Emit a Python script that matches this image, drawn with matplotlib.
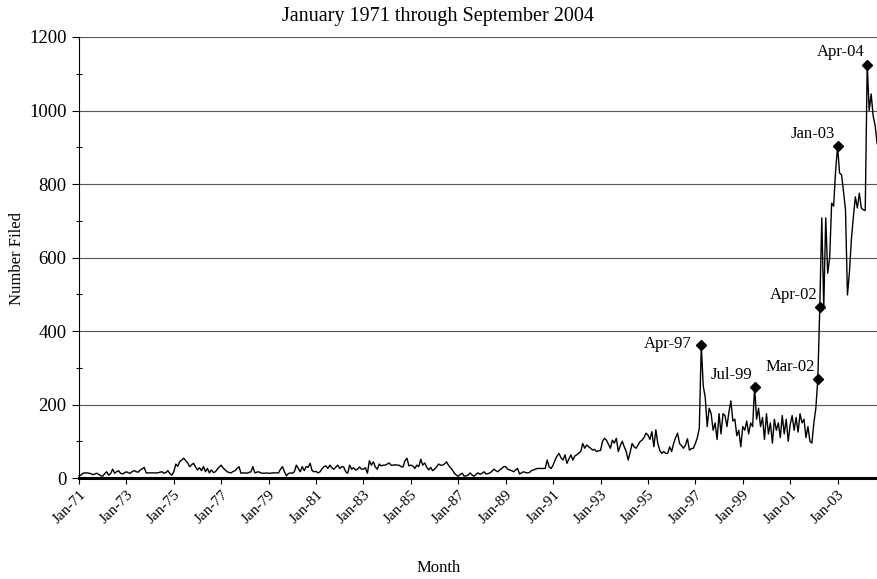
import numpy as np
import matplotlib
matplotlib.use("Agg")
import matplotlib.pyplot as plt

plt.rcParams['font.family'] = ['Liberation Serif', 'DejaVu Serif']

# monthly counts, Jan 1971 .. Sep 2004
filed_1970s = [
    6, 8, 13, 14, 14, 13, 12, 9, 11, 13, 10, 6,          # 1971
    5, 12, 17, 8, 12, 24, 13, 17, 20, 13, 11, 14,        # 1972
    17, 14, 13, 18, 20, 17, 16, 22, 25, 29, 14, 14,      # 1973
    14, 14, 14, 14, 14, 16, 17, 13, 15, 20, 12, 8,       # 1974
    17, 38, 32, 45, 49, 54, 47, 41, 31, 36, 40, 30,      # 1975
    22, 28, 20, 31, 17, 26, 14, 22, 15, 17, 24, 30,      # 1976
    35, 27, 22, 17, 15, 14, 18, 20, 26, 31, 13, 14,      # 1977
    14, 13, 15, 17, 31, 14, 16, 17, 14, 13, 13, 14,      # 1978
    13, 13, 14, 14, 14, 14, 24, 31, 17, 6, 12, 14,       # 1979
]
filed_1980s = [
    13, 17, 35, 26, 17, 31, 20, 31, 29, 40, 20, 17,      # 1980
    18, 14, 17, 25, 31, 33, 26, 35, 28, 24, 30, 35,      # 1981
    26, 31, 30, 17, 13, 35, 24, 28, 22, 24, 30, 24,      # 1982
    24, 28, 13, 47, 35, 44, 30, 24, 38, 33, 35, 35,      # 1983
    38, 41, 35, 35, 36, 35, 35, 31, 30, 47, 54, 33,      # 1984
    35, 33, 26, 35, 31, 51, 35, 41, 30, 22, 29, 20,      # 1985
    24, 30, 38, 35, 35, 38, 44, 35, 28, 22, 13, 8,       # 1986
    5, 10, 13, 5, 6, 8, 14, 8, 5, 10, 14, 10,            # 1987
    13, 17, 11, 12, 14, 18, 24, 20, 17, 22, 26, 31,      # 1988
    31, 24, 22, 20, 17, 22, 26, 11, 14, 17, 15, 14,      # 1989
]
filed_1990s = [
    15, 20, 22, 24, 26, 26, 26, 26, 26, 49, 30, 26,      # 1990
    35, 49, 60, 67, 55, 49, 63, 40, 52, 63, 49, 60,      # 1991
    63, 68, 72, 94, 81, 90, 85, 81, 76, 78, 72, 74,      # 1992
    75, 100, 108, 103, 92, 81, 103, 95, 108, 72, 88, 100,  # 1993
    85, 72, 49, 70, 94, 85, 81, 90, 99, 103, 110, 122,   # 1994
    117, 105, 126, 85, 131, 94, 75, 67, 72, 67, 67, 85,  # 1995
    72, 94, 110, 122, 94, 88, 81, 90, 107, 76, 80, 81,   # 1996
    94, 110, 135, 362, 250, 220, 140, 190, 175, 130, 150, 105,  # 1997
    175, 120, 175, 170, 140, 180, 210, 155, 160, 115, 130, 85,  # 1998
    140, 130, 155, 120, 150, 140, 248, 160, 190, 140, 165, 105,  # 1999
]
filed_2000s = [
    175, 120, 150, 95, 160, 130, 150, 110, 170, 120, 160, 100,  # 2000
    145, 170, 130, 165, 125, 175, 150, 160, 110, 140, 100, 95,  # 2001
    150, 190, 270, 465, 708, 463, 708, 557, 600, 748, 740, 835,  # 2002
    903, 830, 825, 780, 730, 498, 560, 650, 711, 765, 735, 775,  # 2003
    735, 730, 728, 1125, 1000, 1045, 985, 960, 910,             # 2004
]

marked = ['Apr-97', 'Jul-99', 'Mar-02', 'Apr-02', 'Jan-03', 'Apr-04']
mon_names = ['Jan', 'Feb', 'Mar', 'Apr', 'May', 'Jun',
             'Jul', 'Aug', 'Sep', 'Oct', 'Nov', 'Dec']

y = np.array(filed_1970s + filed_1980s + filed_1990s + filed_2000s)
x = np.arange(len(y))

def month_index(lbl):
    m, yy = lbl.split('-')
    yy = int(yy)
    yr = 1900 + yy if yy > 50 else 2000 + yy
    return (yr - 1971) * 12 + mon_names.index(m)

fig = plt.figure(figsize=(8.77, 5.79), dpi=100)
ax = fig.add_axes([0.0901, 0.1744, 0.91, 0.7617])

ax.plot(x, y, color='black', lw=1.0, zorder=3, clip_on=False)

fs = 12
for lbl in marked:
    i = month_index(lbl)
    ax.plot(i, y[i], marker='D', color='black', ms=5.5, zorder=4, clip_on=False)
    if lbl == 'Apr-97':
        ax.annotate(lbl, (i, y[i]), xytext=(-7, 1), textcoords='offset points',
                    ha='right', va='center', fontsize=fs)
    else:
        ax.annotate(lbl, (i, y[i]), xytext=(-2, 3), textcoords='offset points',
                    ha='right', va='bottom', fontsize=fs)

ax.set_xlim(0, len(y) - 1)
ax.set_ylim(0, 1200)

xt = np.arange(0, len(y), 24)
ax.set_xticks(xt)
ax.set_xticklabels(['Jan-%02d' % ((1971 + i // 12) % 100) for i in xt],
                   rotation=45, ha='right', rotation_mode='anchor', fontsize=11)
ax.set_yticks(np.arange(0, 1201, 200))
ax.set_yticks(np.arange(100, 1200, 200), minor=True)
ax.tick_params(axis='y', which='major', direction='out', length=5, width=0.8,
               labelsize=13.5, pad=4)
ax.tick_params(axis='y', which='minor', direction='inout', length=4, width=0.8)
ax.tick_params(axis='x', which='major', direction='out', length=4.5, width=0.8,
               pad=3)

ax.yaxis.grid(True, color='#555555', lw=0.8)
ax.set_axisbelow(True)
ax.spines['right'].set_visible(False)
ax.spines['top'].set_visible(False)
ax.spines['left'].set_linewidth(0.8)
ax.spines['bottom'].set_linewidth(2.2)

fig.text(0.5, 0.971, 'January 1971 through September 2004', ha='center',
         va='center', fontsize=14.5)
fig.text(0.5, 0.019, 'Month', ha='center', va='center', fontsize=fs)
fig.text(0.019, 0.554, 'Number Filed', ha='center', va='center',
         rotation=90, fontsize=fs)

fig.savefig('out.png', dpi=100)
